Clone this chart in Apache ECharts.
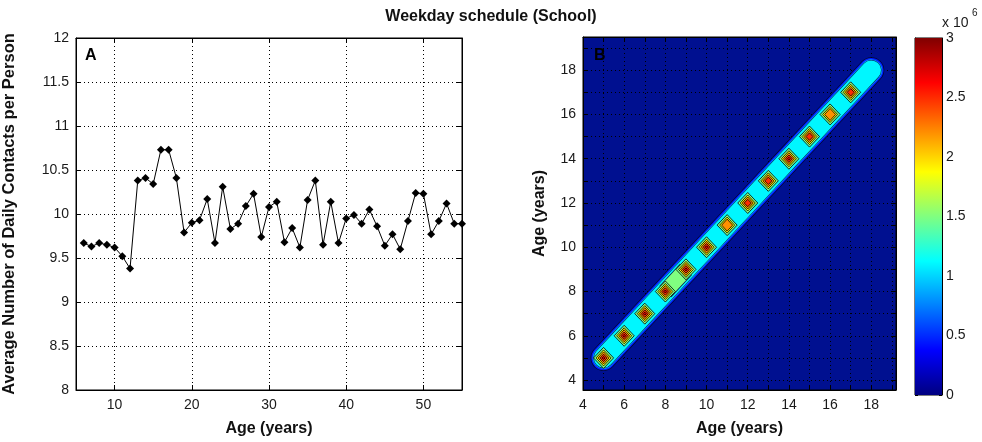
<!DOCTYPE html>
<html><head><meta charset="utf-8">
<script src="https://cdn.jsdelivr.net/npm/echarts@6/dist/echarts.min.js"></script>
<style>html,body{margin:0;padding:0;background:#fff}#c{width:982px;height:442px}</style>
</head><body><div id="c"></div>
<script>
// ---- Panel A data ----
const ages = [6,7,8,9,10,11,12,13,14,15,16,17,18,19,20,21,22,23,24,25,26,27,28,29,30,31,32,33,34,35,36,37,38,39,40,41,42,43,44,45,46,47,48,49,50,51,52,53,54,55];
const contacts = [9.67,9.63,9.67,9.65,9.62,9.52,9.38,10.38,10.41,10.34,10.73,10.73,10.41,9.79,9.90,9.93,10.17,9.67,10.31,9.83,9.89,10.09,10.23,9.74,10.08,10.14,9.68,9.84,9.62,10.16,10.38,9.65,10.14,9.67,9.95,9.99,9.89,10.05,9.86,9.64,9.77,9.60,9.92,10.24,10.23,9.77,9.92,10.12,9.89,9.89];
const leftXTicks = [10,20,30,40,50];
const leftYTicks = [8,8.5,9,9.5,10,10.5,11,11.5,12];

// ---- Panel B data (values x 10^6) ----
const diagAges = [5,6,7,8,9,10,11,12,13,14,15,16,17,18];
const diagPeak = [2.8,2.8,2.75,2.8,2.8,2.8,2.45,2.55,2.7,2.8,2.65,2.45,2.55,1.2];
const segValue = [1.1,1.1,1.1,1.6,1.1,1.1,1.1,1.1,1.1,1.1,1.1,1.1,1.1]; // between consecutive diagonal ages
const contourLevels = [1.5,1.9,2.2,2.5,2.75];
const rightTicks = [4,6,8,10,12,14,16,18];
const cbTicks = [0,0.5,1,1.5,2,2.5,3];
const cbMin = 0, cbMax = 3;

const FONT = 'Liberation Sans, Arial, Helvetica, sans-serif';
function jet(v){
  const t=(v-cbMin)/(cbMax-cbMin);
  const c=x=>Math.round(255*Math.max(0,Math.min(1,x)));
  return 'rgb('+c(1.5-Math.abs(4*t-3))+','+c(1.5-Math.abs(4*t-2))+','+c(1.5-Math.abs(4*t-1))+')';
}
const inList=(list)=>(v)=>list.some(x=>Math.abs(x-v)<1e-9)?String(v):'';
const dotted={show:true,lineStyle:{color:'#000',width:1,type:[1,3]}};
const tickIn={show:true,inside:true,length:5,lineStyle:{color:'#000'}};
const axLine={show:true,onZero:false,lineStyle:{color:'#000',width:1}};
const lblStyle={fontSize:14,color:'#1a1a1a',fontFamily:FONT};
const nameStyle={fontSize:16,fontWeight:'bold',color:'#111',fontFamily:FONT};

const diagPts = diagAges.map(a=>[a,a]);
const series = [];
// Panel A line
series.push({type:'line',xAxisIndex:0,yAxisIndex:0,data:ages.map((a,i)=>[a,contacts[i]]),
  symbol:'diamond',symbolSize:8,itemStyle:{color:'#000'},lineStyle:{color:'#000',width:1},z:5});
// Panel B band layers
const bandLayers=[{w:26,c:'#000830'},{w:24.5,c:jet(0.45)},{w:22,c:jet(0.8)},{w:20.5,c:'#061a50'},{w:19.5,c:jet(1.1)}];
bandLayers.forEach((L,k)=>series.push({type:'line',xAxisIndex:2,yAxisIndex:2,data:diagPts,showSymbol:false,
  lineStyle:{color:L.c,width:L.w,cap:'round',join:'round'},z:3+k*0.01,silent:true}));
// higher-valued band segments
segValue.forEach((v,i)=>{
  if(v>=contourLevels[0]){
    series.push({type:'line',xAxisIndex:2,yAxisIndex:2,data:[diagPts[i],diagPts[i+1]],showSymbol:false,
      lineStyle:{color:'#062050',width:16.5,cap:'butt'},z:3.1,silent:true});
    series.push({type:'line',xAxisIndex:2,yAxisIndex:2,data:[diagPts[i],diagPts[i+1]],showSymbol:false,
      lineStyle:{color:jet(contourLevels[0]),width:15,cap:'butt'},z:3.11,silent:true});
  }
});
// diamonds (contour levels around each diagonal peak)
const layerSize=[[20,21],[15,16],[11,12],[7,7.5],[3,3]];
contourLevels.forEach((lv,k)=>{
  series.push({type:'scatter',xAxisIndex:2,yAxisIndex:2,
    data:diagAges.filter((a,i)=>diagPeak[i]>=lv).map(a=>[a,a]),
    symbol:'diamond',symbolSize:layerSize[k],
    itemStyle:{color:jet(lv),borderColor:'#000',borderWidth:0.8,opacity:1},z:4+k*0.01,silent:true});
});
// colorbar
const stops=[0,0.125,0.25,0.375,0.5,0.625,0.75,0.875,1].map(t=>({offset:t,color:jet(cbMin+t*(cbMax-cbMin))}));
series.push({type:'bar',xAxisIndex:4,yAxisIndex:4,data:[cbMax],barWidth:'100%',silent:true,
  itemStyle:{color:{type:'linear',x:0,y:1,x2:0,y2:0,colorStops:stops}}});

const option={
  animation:false,
  backgroundColor:'#fff',
  title:{text:'Weekday schedule (School)',left:'center',top:4,
    textStyle:{fontSize:16,fontWeight:'bold',color:'#111',fontFamily:FONT}},
  grid:[
    {left:76,top:38,width:386,height:355,show:true,borderColor:'#000',borderWidth:1,backgroundColor:'#fff'},
    {left:583,top:37,width:313,height:356,show:true,borderColor:'#000',borderWidth:1,backgroundColor:'rgb(0,16,144)'},
    {left:915,top:38,width:27,height:357,show:true,borderColor:'#000',borderWidth:1}
  ],
  xAxis:[
    {gridIndex:0,type:'value',min:5,max:55,minInterval:10,maxInterval:10,axisLine:axLine,axisTick:tickIn,
     axisLabel:Object.assign({margin:8,formatter:inList(leftXTicks)},lblStyle),splitLine:dotted,
     name:'Age (years)',nameLocation:'middle',nameGap:31,nameTextStyle:nameStyle},
    {gridIndex:0,type:'value',position:'top',min:5,max:55,minInterval:10,maxInterval:10,axisLine:axLine,axisTick:tickIn,
     axisLabel:{show:false},splitLine:{show:false}},
    {gridIndex:1,type:'value',min:4,max:19.2,interval:1,axisLine:axLine,axisTick:tickIn,
     axisLabel:Object.assign({margin:8,formatter:inList(rightTicks)},lblStyle),splitLine:dotted,
     name:'Age (years)',nameLocation:'middle',nameGap:31,nameTextStyle:nameStyle},
    {gridIndex:1,type:'value',position:'top',min:4,max:19.2,interval:1,axisLine:axLine,axisTick:tickIn,
     axisLabel:{show:false},splitLine:{show:false}},
    {gridIndex:2,type:'category',data:['cb'],show:false}
  ],
  yAxis:[
    {gridIndex:0,type:'value',min:8,max:12,interval:0.5,axisLine:axLine,axisTick:tickIn,
     axisLabel:Object.assign({margin:7,formatter:inList(leftYTicks)},lblStyle),splitLine:dotted,
     name:'Average Number of Daily Contacts per Person',nameLocation:'middle',nameGap:58,
     nameTextStyle:Object.assign({},nameStyle,{fontSize:16.5})},
    {gridIndex:0,type:'value',position:'right',min:8,max:12,interval:0.5,axisLine:axLine,axisTick:tickIn,
     axisLabel:{show:false},splitLine:{show:false}},
    {gridIndex:1,type:'value',min:3.55,max:19.5,minInterval:1,maxInterval:1,axisLine:axLine,axisTick:tickIn,
     axisLabel:Object.assign({margin:7,formatter:inList(rightTicks)},lblStyle),splitLine:dotted,
     name:'Age (years)',nameLocation:'middle',nameGap:35,nameTextStyle:nameStyle},
    {gridIndex:1,type:'value',position:'right',min:3.55,max:19.5,minInterval:1,maxInterval:1,axisLine:axLine,axisTick:tickIn,
     axisLabel:{show:false},splitLine:{show:false}},
    {gridIndex:2,type:'value',position:'right',min:cbMin,max:cbMax,interval:0.5,axisLine:axLine,
     axisTick:{show:true,inside:true,length:3,lineStyle:{color:'#000'}},
     axisLabel:Object.assign({margin:4,formatter:inList(cbTicks)},lblStyle),splitLine:{show:false}},
    {gridIndex:2,type:'value',position:'left',min:cbMin,max:cbMax,interval:0.5,axisLine:axLine,
     axisTick:{show:true,inside:true,length:3,lineStyle:{color:'#000'}},
     axisLabel:{show:false},splitLine:{show:false}}
  ],
  graphic:[
    {type:'text',left:85,top:48,style:{text:'A',fontSize:16,fontWeight:'bold',fontFamily:FONT,fill:'#000'}},
    {type:'text',left:594,top:48,style:{text:'B',fontSize:16,fontWeight:'bold',fontFamily:FONT,fill:'#000'}},
    {type:'text',left:942,top:16,style:{text:'x 10',fontSize:14,fontFamily:FONT,fill:'#1a1a1a'}},
    {type:'text',left:972,top:8,style:{text:'6',fontSize:10,fontFamily:FONT,fill:'#1a1a1a'}}
  ],
  series:series
};
const chart=echarts.init(document.getElementById('c'),null,{renderer:'canvas'});
chart.setOption(option);
</script></body></html>
